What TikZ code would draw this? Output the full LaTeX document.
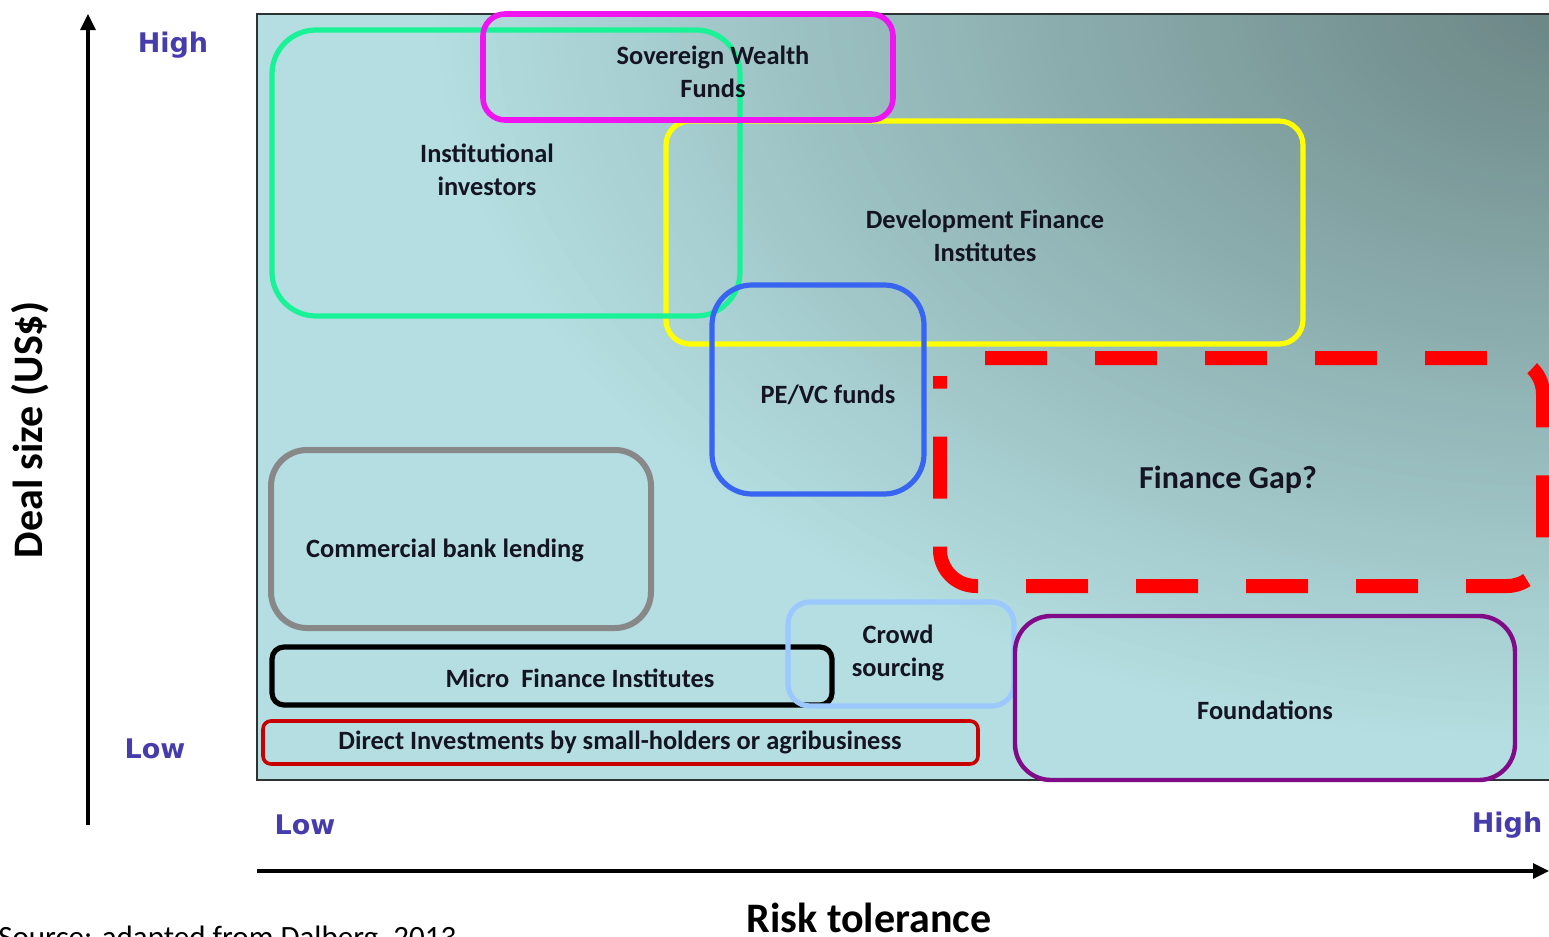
\documentclass[tikz,border=0pt]{standalone}
\usepackage{fontspec}
\setmainfont{Carlito}
\newfontfamily\djv{DejaVu Sans}
\usetikzlibrary{arrows.meta}
\definecolor{bglight}{RGB}{180,222,225}
\definecolor{bgdark}{RGB}{106,132,131}
\definecolor{axislab}{RGB}{70,60,172}
\definecolor{cgreen}{RGB}{25,242,150}
\definecolor{cmagenta}{RGB}{240,20,240}
\definecolor{cyellow}{RGB}{255,255,0}
\definecolor{cblue}{RGB}{55,100,240}
\definecolor{cgrey}{RGB}{136,136,136}
\definecolor{clblue}{RGB}{155,200,255}
\definecolor{cpurple}{RGB}{128,10,135}
\definecolor{cdred}{RGB}{200,0,0}
\definecolor{cred}{RGB}{255,0,0}
\definecolor{txt}{RGB}{20,20,35}
\tikzset{
  boxlabel/.style={font=\fontsize{13.2}{16.5}\selectfont\bfseries, text=txt, align=center, inner sep=0pt},
  axlabel/.style={font=\djv\fontsize{13.5}{16}\selectfont\bfseries, text=axislab, inner sep=0pt},
  frame/.style={rounded corners=#1, line join=round},
  axisline/.style={line width=1.6pt, draw=black}
}
\begin{document}
\begin{tikzpicture}[x=0.5pt,y=-0.5pt]
\useasboundingbox (0,0) rectangle (1549,937);
% background panel with a soft elliptical gradient from the top-right corner
\fill[bglight] (257,14) rectangle (1560,780);
\begin{scope}
  \clip (257,14) rectangle (1560,780);
  \foreach \r in {1000,990,...,10}{
    \pgfmathtruncatemacro{\pd}{100-\r/10}
    \fill[bgdark!\pd!bglight] (1575,0) ellipse[x radius=1.15*\r, y radius=0.75*\r];
  }
\end{scope}
\draw[line width=1.1pt, draw={rgb,255:red,45;green,50;blue,50}] (1560,14) -- (257,14) -- (257,780) -- (1560,780);
% boxes
\draw[frame=12pt, line width=2.6pt, cyellow] (666,121) rectangle (1303,344);
\draw[frame=22pt, line width=2.6pt, cgreen] (272,30) rectangle (740,316);
\draw[frame=11pt, line width=2.8pt, cmagenta] (483,14) rectangle (893,120);
\draw[frame=20pt, line width=2.6pt, cblue] (712,285) rectangle (924,494);
\draw[frame=18pt, line width=3pt, cgrey] (271,450) rectangle (651,628);
\draw[frame=6pt, line width=2.6pt, black] (272,647) rectangle (832,705);
\draw[frame=11pt, line width=2.6pt, clblue] (788,602) rectangle (1014,706);
\draw[frame=18pt, line width=2.2pt, cpurple] (1015,616) rectangle (1515,780);
\draw[frame=4pt, line width=1.8pt, cdred] (263,721) rectangle (978,764);
\draw[rounded corners=18pt, line width=7pt, cred, dash pattern=on 31pt off 24pt]
  (985,358) -- (1543,358) -- (1543,586) -- (940,586) -- (940,376);
% box labels
\node[boxlabel] (swf) at (713,72) {Sovereign Wealth\\Funds};
\node[boxlabel] (inst) at (487,170) {Institutional\\investors};
\node[boxlabel] (dfi) at (985,236) {Development Finance\\Institutes};
\node[boxlabel] (pevc) at (828,395) {PE/VC funds};
\node[boxlabel, font=\fontsize{16}{19}\selectfont\bfseries] (gap) at (1228,480) {Finance Gap?};
\node[boxlabel] (cbl) at (445,550) {Commercial bank lending};
\node[boxlabel] (crowd) at (898,653) {Crowd\\sourcing};
\node[boxlabel] (mfi) at (580,678) {Micro\ \ Finance Institutes};
\node[boxlabel] (found) at (1265,710) {Foundations};
\node[boxlabel] (direct) at (620,742) {Direct Investments by small-holders or agribusiness};
% axes
\coordinate (ybot) at (88,825);
\coordinate (ytop) at (88,14);
\coordinate (xleft) at (257,871);
\coordinate (xright) at (1549,871);
\draw[axisline, -{Triangle[length=8pt,width=7.5pt]}] (ybot) -- (ytop);
\draw[axisline, -{Triangle[length=8pt,width=7.5pt]}] (xleft) -- (xright);
\node[axlabel] (yhigh) at (173,45) {High};
\node[axlabel] (ylow) at (155,749) {Low};
\node[axlabel] (xlow) at (305,825) {Low};
\node[axlabel] (xhigh) at (1507,825) {High};
\node[font=\fontsize{21}{25}\selectfont\bfseries, rotate=90, inner sep=0pt] (ytitle) at (30,430) {Deal size (US\$)};
\node[font=\fontsize{21}{25}\selectfont\bfseries, anchor=base, inner sep=0pt] (xtitle) at (869,932) {Risk tolerance};
\node[font=\fontsize{15.5}{18}\selectfont, anchor=base west, inner sep=0pt] (source) at (-2,947) {Source: adapted from Dalberg, 2013};
\end{tikzpicture}
\end{document}
